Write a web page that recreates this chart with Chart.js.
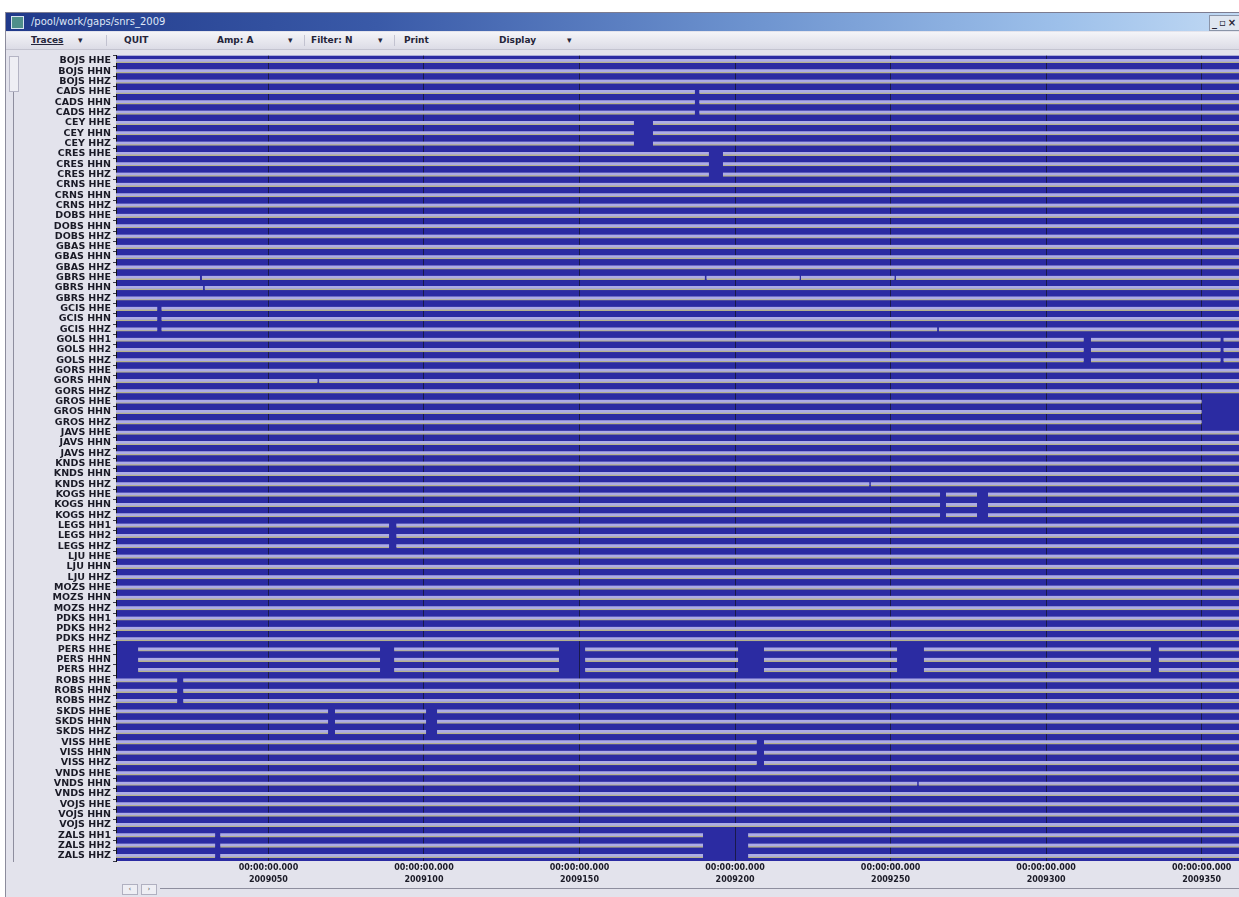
<!DOCTYPE html>
<html>
<head>
<meta charset="utf-8">
<title>snrs_2009 gaps</title>
<script src="https://cdn.jsdelivr.net/npm/chart.js@4/dist/chart.umd.min.js"></script>
<style>
  html, body { margin: 0; padding: 0; width: 1239px; height: 897px; overflow: hidden; background: #ffffff; font-family: "DejaVu Sans", sans-serif; }
  #win { position: absolute; left: 5px; top: 12px; width: 1240px; height: 884px; background: #e3e3ec; border-left: 1px solid #8c8c9c; border-top: 1px solid #7c7c90; border-bottom: 1px solid #9a9aa8; }
  #titlebar { position: absolute; left: 0; top: 0; width: 1240px; height: 18px; background: linear-gradient(to right, #20398a 0%, #3a5aa8 30%, #6d93cf 60%, #9dc0ea 85%, #c2daf4 100%); }
  #titlebar .icon { position: absolute; left: 5px; top: 3px; width: 11px; height: 11px; background: #4f8f8a; border: 1px solid #d8e4f0; }
  #titlebar .txt { position: absolute; left: 25px; top: 0; line-height: 18px; font-size: 10px; color: #dfe7f6; }
  #titlebar .btns { position: absolute; left: 1203px; top: 2px; width: 36px; height: 14px; background: #dfe6f0; border: 1px solid #8a94a8; font-size: 10px; font-weight: bold; color: #223; line-height: 14px; letter-spacing: 2px; padding-left: 2px; }
  #menubar { position: absolute; left: 0; top: 19px; width: 1240px; height: 17px; background: linear-gradient(to bottom, #f4f4f8, #dcdce6); border-bottom: 1px solid #c4c4d0; }
  #menubar span { position: absolute; top: 0; line-height: 17px; font-size: 9px; font-weight: bold; color: #25253a; }
  #menubar i { position: absolute; top: 3px; width: 1px; height: 11px; background: #c2c2d0; }
  #plot { position: absolute; left: 5px; top: 48px; width: 1234px; height: 847px; }
  #vscroll { position: absolute; left: 13px; top: 56px; width: 1px; height: 806px; background: #8e8e9e; }
  #vthumb { position: absolute; left: 9px; top: 56px; width: 8px; height: 34px; border: 1px solid #b4b4c4; background: #eeeef4; }
  #hbtn1, #hbtn2 { position: absolute; top: 884px; width: 14px; height: 9px; border: 1px solid #b0b0c0; background: #eeeef4; font-size: 7px; line-height: 9px; text-align: center; color: #555; }
  #hbtn1 { left: 122px; } #hbtn2 { left: 141px; }
  #hscroll { position: absolute; left: 160px; top: 888px; width: 1079px; height: 1px; background: #8e8e9e; }
</style>
</head>
<body>
<div id="win">
  <div id="titlebar"><div class="icon"></div><div class="txt">/pool/work/gaps/snrs_2009</div><div class="btns">_▫×</div></div>
  <div id="menubar">
    <span style="left:25px;text-decoration:underline">Traces</span><span style="left:72px">▾</span>
    <i style="left:100px"></i>
    <span style="left:118px">QUIT</span>
    <span style="left:211px">Amp: A</span><span style="left:282px">▾</span>
    <i style="left:298px"></i>
    <span style="left:305px">Filter: N</span><span style="left:372px">▾</span>
    <i style="left:388px"></i>
    <span style="left:398px">Print</span>
    <span style="left:493px">Display</span><span style="left:561px">▾</span>
  </div>
</div>
<div id="vscroll"></div><div id="vthumb"></div>
<div id="plot"><canvas id="c" width="1234" height="847" style="width:1234px;height:847px"></canvas></div>
<div id="hbtn1">‹</div><div id="hbtn2">›</div><div id="hscroll"></div>

<script>
// Trace list (station + channel), top to bottom
const traceLabels = [
  'BOJS HHE', 'BOJS HHN', 'BOJS HHZ',
  'CADS HHE', 'CADS HHN', 'CADS HHZ',
  'CEY HHE', 'CEY HHN', 'CEY HHZ',
  'CRES HHE', 'CRES HHN', 'CRES HHZ',
  'CRNS HHE', 'CRNS HHN', 'CRNS HHZ',
  'DOBS HHE', 'DOBS HHN', 'DOBS HHZ',
  'GBAS HHE', 'GBAS HHN', 'GBAS HHZ',
  'GBRS HHE', 'GBRS HHN', 'GBRS HHZ',
  'GCIS HHE', 'GCIS HHN', 'GCIS HHZ',
  'GOLS HH1', 'GOLS HH2', 'GOLS HHZ',
  'GORS HHE', 'GORS HHN', 'GORS HHZ',
  'GROS HHE', 'GROS HHN', 'GROS HHZ',
  'JAVS HHE', 'JAVS HHN', 'JAVS HHZ',
  'KNDS HHE', 'KNDS HHN', 'KNDS HHZ',
  'KOGS HHE', 'KOGS HHN', 'KOGS HHZ',
  'LEGS HH1', 'LEGS HH2', 'LEGS HHZ',
  'LJU HHE', 'LJU HHN', 'LJU HHZ',
  'MOZS HHE', 'MOZS HHN', 'MOZS HHZ',
  'PDKS HH1', 'PDKS HH2', 'PDKS HHZ',
  'PERS HHE', 'PERS HHN', 'PERS HHZ',
  'ROBS HHE', 'ROBS HHN', 'ROBS HHZ',
  'SKDS HHE', 'SKDS HHN', 'SKDS HHZ',
  'VISS HHE', 'VISS HHN', 'VISS HHZ',
  'VNDS HHE', 'VNDS HHN', 'VNDS HHZ',
  'VOJS HHE', 'VOJS HHN', 'VOJS HHZ',
  'ZALS HH1', 'ZALS HH2', 'ZALS HHZ'
];

// Time window (day of year 2009)
const dayFirst = 1;
const dayLast = 362;

// Axis ticks: day of year and the label lines under each
const tickDays = [50, 100, 150, 200, 250, 300, 350];
const tickTimes = ['00:00:00.000', '00:00:00.000', '00:00:00.000', '00:00:00.000', '00:00:00.000', '00:00:00.000', '00:00:00.000'];
const tickDates = ['2009050', '2009100', '2009150', '2009200', '2009250', '2009300', '2009350'];

// Data gaps: [station or single trace, first day, last day]
const gaps = [
  ['CADS', 187.1, 188.5],
  ['CEY', 167.5, 173.6],
  ['CRES', 191.6, 196.1],
  ['GBRS HHE', 28.0, 28.6],
  ['GBRS HHN', 29.0, 29.5],
  ['GBRS HHE', 190.3, 190.8],
  ['GBRS HHE', 220.8, 221.2],
  ['GBRS HHE', 251.3, 251.7],
  ['GCIS', 14.3, 15.6],
  ['GCIS HHZ', 265.0, 265.5],
  ['GOLS', 312.1, 314.4],
  ['GOLS', 356.1, 357.0],
  ['GORS HHN', 65.8, 66.3],
  ['GROS', 350.0, 362.0],
  ['KNDS HHZ', 243.2, 243.6],
  ['KOGS', 265.9, 267.8],
  ['KOGS', 277.8, 281.3],
  ['LEGS', 88.8, 91.1],
  ['PERS', 1.0, 8.1],
  ['PERS', 85.9, 90.4],
  ['PERS', 143.4, 151.8],
  ['PERS', 201.0, 209.3],
  ['PERS', 252.1, 260.7],
  ['PERS', 333.7, 336.2],
  ['ROBS', 20.7, 22.6],
  ['SKDS', 69.2, 71.4],
  ['SKDS', 100.7, 104.2],
  ['VISS', 207.0, 209.3],
  ['VNDS HHN', 258.6, 259.0],
  ['ZALS', 32.9, 34.5],
  ['ZALS', 189.7, 204.2]
];

// Turn each trace's gap list into the continuous data segments between them
function segmentsFor(label) {
  const station = label.split(' ')[0];
  const own = gaps
    .filter(g => g[0] === station || g[0] === label)
    .map(g => [g[1], g[2]])
    .sort((a, b) => a[0] - b[0]);
  const out = [];
  let t = dayFirst;
  for (const [g0, g1] of own) {
    if (g0 > t) out.push({ x: [t, g0], y: label });
    t = Math.max(t, g1);
  }
  if (t < dayLast) out.push({ x: [t, dayLast], y: label });
  return out;
}

const segments = traceLabels.flatMap(segmentsFor);

// Deep blue plot field behind the traces
const plotField = {
  id: 'plotField',
  beforeDraw(chart) {
    const { ctx, chartArea: a } = chart;
    ctx.save();
    ctx.fillStyle = '#2b2ba2';
    ctx.fillRect(a.left, a.top, a.right - a.left, a.bottom - a.top);
    ctx.restore();
  }
};

new Chart(document.getElementById('c'), {
  type: 'bar',
  data: {
    labels: traceLabels,
    datasets: [{
      data: segments,
      backgroundColor: '#adace6',
      borderColor: '#b4b18e',
      borderWidth: { top: 0, left: 0, right: 0, bottom: 1.4 },
      borderSkipped: false,
      barThickness: 3.8
    }]
  },
  options: {
    indexAxis: 'y',
    responsive: false,
    animation: false,
    events: [],
    layout: { padding: { top: 4.5, right: 0, bottom: 4, left: 0 } },
    plugins: { legend: { display: false }, tooltip: { enabled: false } },
    scales: {
      x: {
        type: 'linear',
        position: 'bottom',
        min: dayFirst,
        max: dayLast,
        z: 1,
        afterBuildTicks(scale) { scale.ticks = tickDays.map(v => ({ value: v })); },
        afterFit(scale) { scale.height = 30; },
        grid: { color: 'rgba(22,22,60,0.85)', lineWidth: 1, drawTicks: false },
        border: { display: false },
        ticks: {
          autoSkip: false,
          maxRotation: 0,
          padding: 1,
          color: '#1a1a26',
          font: { family: 'DejaVu Sans', size: 8, weight: 'bold', lineHeight: 1.5 },
          callback(value) {
            const i = tickDays.indexOf(value);
            return i < 0 ? '' : [tickTimes[i], tickDates[i]];
          }
        }
      },
      y: {
        type: 'category',
        offset: true,
        afterFit(scale) { scale.width = 111; },
        grid: { drawOnChartArea: false, drawTicks: true, tickLength: 3, color: '#3a3a48' },
        border: { display: true, color: '#111118', width: 1 },
        ticks: {
          autoSkip: false,
          padding: 2,
          color: '#1a1a26',
          font: { family: 'DejaVu Sans', size: 9.5, weight: 'bold' }
        }
      }
    }
  },
  plugins: [plotField]
});
</script>
</body>
</html>
